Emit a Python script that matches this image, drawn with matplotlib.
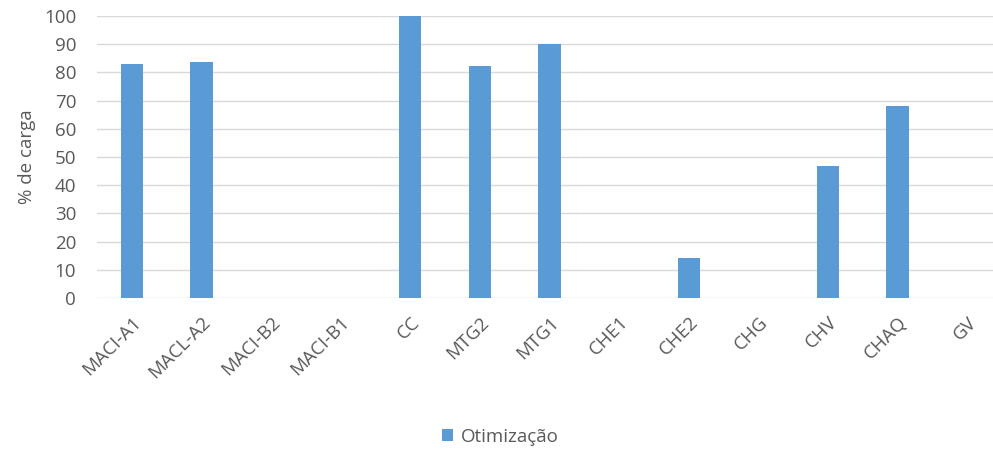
import matplotlib
matplotlib.use("Agg")
from matplotlib import pyplot as plt
import numpy as np

categorias = ["MACI-A1", "MACL-A2", "MACI-B2", "MACI-B1", "CC", "MTG2", "MTG1",
              "CHE1", "CHE2", "CHG", "CHV", "CHAQ", "GV"]
otimizacao = [83, 83.7, 0, 0, 100, 82.3, 90, 0, 14.2, 0, 46.8, 68, 0]
y_ticks = list(range(0, 101, 10))

plt.rcParams['font.family'] = ['Open Sans', 'DejaVu Sans']
cinza = '#595959'

fig = plt.figure(figsize=(9.93, 4.51), dpi=100)
ax = fig.add_axes([97 / 993, 1 - 298 / 451, 1 - 97 / 993, (298 - 16) / 451])

x = np.arange(len(categorias))
ax.bar(x, otimizacao, width=0.32, color='#5B9BD5', label='Otimização', zorder=3)

ax.set_ylim(0, 100)
ax.set_xlim(-0.5, 12.37)
ax.set_yticks(y_ticks)
ax.set_yticklabels([str(v) for v in y_ticks], fontsize=13.5, color=cinza)
ax.set_xticks(x)
ax.set_xticklabels(categorias, rotation=45, ha='right', rotation_mode='anchor',
                   fontsize=13.5, color=cinza)
ax.tick_params(length=0, axis='y', pad=15)
ax.tick_params(length=0, axis='x', pad=11)
ax.grid(axis='y', color='#D9D9D9', linewidth=1, zorder=0)
for s in ax.spines.values():
    s.set_visible(False)

ax.set_ylabel('% de carga', fontsize=13.5, color=cinza, labelpad=6)

fig.legend(loc='center', bbox_to_anchor=(500 / 993, 1 - 437 / 451), frameon=False,
           fontsize=13.5, labelcolor=cinza, handlelength=0.6, handleheight=0.6,
           handletextpad=0.4)

fig.savefig('out.png', dpi=100)
